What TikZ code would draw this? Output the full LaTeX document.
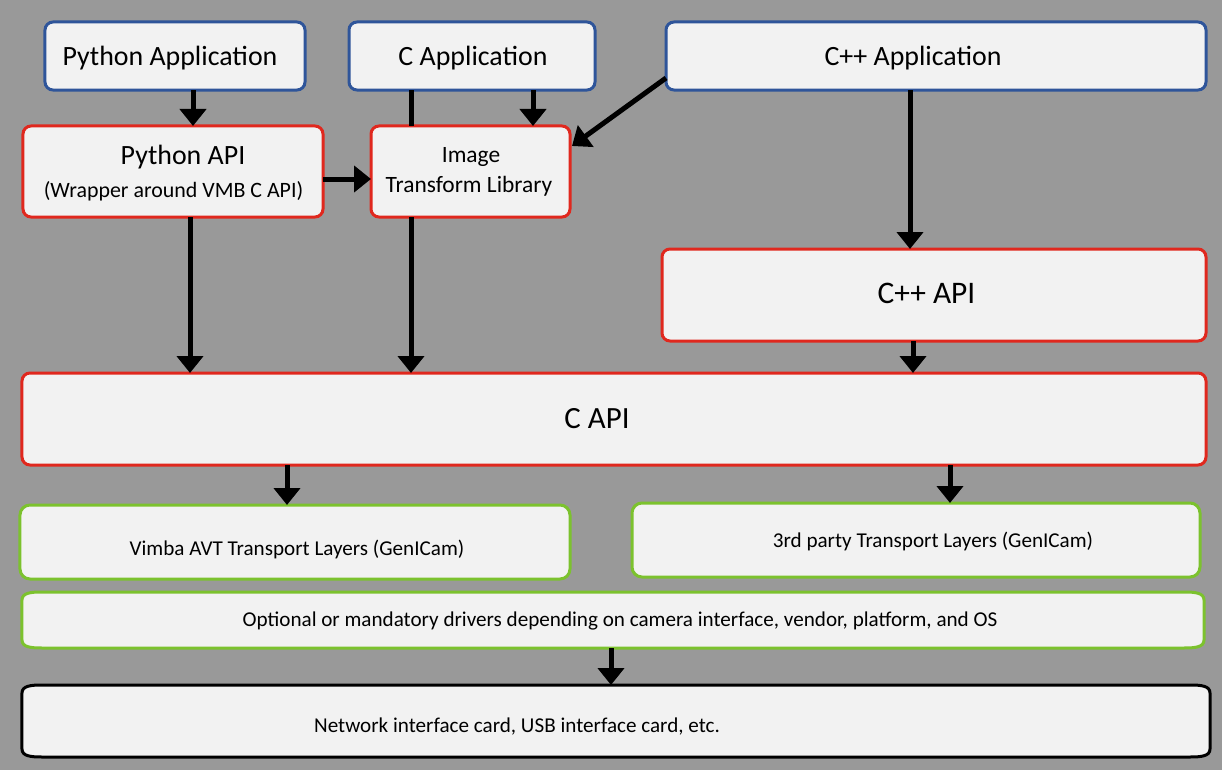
\documentclass[tikz,border=0pt]{standalone}
\usepackage{fontspec}
\setmainfont{Carlito}
\usetikzlibrary{arrows.meta,calc}
\definecolor{bg}{HTML}{999999}
\definecolor{boxfill}{HTML}{F2F2F2}
\definecolor{appblue}{HTML}{2F559A}
\definecolor{apired}{HTML}{E0281E}
\definecolor{tlgreen}{HTML}{7CC22E}
\newcommand\ellbox[4]{%
  \draw[line width=3bp,draw=#2,fill=boxfill]
    ([xshift=#3]#1.north west) -- ([xshift=-#3]#1.north east)
    .. controls ([xshift=-0.45*#3]#1.north east) and ([yshift=-0.1*#4]#1.north east) .. ([yshift=-#4]#1.north east)
    -- ([yshift=#4]#1.south east)
    .. controls ([yshift=0.1*#4]#1.south east) and ([xshift=-0.45*#3]#1.south east) .. ([xshift=-#3]#1.south east)
    -- ([xshift=#3]#1.south west)
    .. controls ([xshift=0.45*#3]#1.south west) and ([yshift=0.1*#4]#1.south west) .. ([yshift=#4]#1.south west)
    -- ([yshift=-#4]#1.north west)
    .. controls ([yshift=-0.1*#4]#1.north west) and ([xshift=0.45*#3]#1.north west) .. ([xshift=#3]#1.north west) -- cycle;}
\begin{document}
\begin{tikzpicture}[x=1bp,y=-1bp,
 box/.style={rounded corners=8bp, line width=3bp, fill=boxfill, inner sep=0, outer sep=0},
 app/.style={box, draw=appblue},
 api/.style={box, draw=apired},
 tl/.style={box, draw=tlgreen, rounded corners=10bp},
 plain/.style={inner sep=0, outer sep=0},
 txt/.style={inner sep=0, anchor=base},
 apptxt/.style={txt, font=\fontsize{28}{33}\selectfont},
 small/.style={txt, font=\fontsize{21.2}{25}\selectfont},
 arr/.style={line width=5bp, -{Triangle[width=26bp,length=17bp]}},
 seg/.style={line width=5bp},
]
\fill[white] (0,0) rectangle (1229,770);
\fill[bg] (0,0) rectangle (1222,770);
\useasboundingbox (0,0) rectangle (1229,770);

% applications
\node[app, minimum width=260bp, minimum height=68bp] (pyapp) at (175,56) {};
\node[apptxt] (pyapptxt) at (170,66) {Python Application};
\node[app, minimum width=246bp, minimum height=68bp] (capp) at (472,56) {};
\node[apptxt] (capptxt) at (473,66) {C Application};
\node[app, minimum width=540bp, minimum height=68bp] (cppapp) at (936,56) {};
\node[apptxt] (cppapptxt) at (913,66) {C++ Application};

% APIs
\node[api, minimum width=300bp, minimum height=91bp] (pyapi) at (173,171.5) {};
\node[apptxt] (pyapitxt) at (183,164) {Python API};
\node[txt, font=\fontsize{22}{26}\selectfont] (pyapisub) at (173.5,197) {(Wrapper around VMB C API)};
\node[api, minimum width=199bp, minimum height=91bp] (itl) at (470.5,171.5) {};
\node[txt, font=\fontsize{23.5}{28}\selectfont] (itltxta) at (471,162) {Image};
\node[txt, font=\fontsize{23.5}{28}\selectfont] (itltxtb) at (469,192) {Transform Library};
\node[api, minimum width=544bp, minimum height=92bp] (cppapi) at (934,295) {};
\node[txt, font=\fontsize{31.5}{36}\selectfont] (cppapitxt) at (926.5,303) {C++ API};
\node[api, minimum width=1184bp, minimum height=92bp] (capi) at (614,419) {};
\node[txt, font=\fontsize{31}{36}\selectfont] (capitxt) at (597,428) {C API};

% transport layers
\node[tl, minimum width=550bp, minimum height=74bp] (vimba) at (295,542) {};
\node[small] (vimbatxt) at (297,555) {Vimba AVT Transport Layers (GenICam)};
\node[tl, minimum width=568bp, minimum height=74bp] (third) at (916,540) {};
\node[small] (thirdtxt) at (933,547) {3rd party Transport Layers (GenICam)};

% drivers and hardware
\node[plain, minimum width=1182bp, minimum height=56bp] (opt) at (613,620) {};
\ellbox{opt}{tlgreen}{20bp}{8bp}
\node[small] (opttxt) at (620,626) {Optional or mandatory drivers depending on camera interface, vendor, platform, and OS};
\node[plain, minimum width=1188bp, minimum height=72bp] (net) at (616,721) {};
\ellbox{net}{black}{20bp}{8bp}
\node[small] (nettxt) at (517,732) {Network interface card, USB interface card, etc.};

% helper coordinates
\coordinate (x193) at (193,0);
\coordinate (x533) at (533,0);
\coordinate (x411) at (411,0);
\coordinate (x190) at (190,0);
\coordinate (x910) at (910,0);
\coordinate (x913) at (913,0);
\coordinate (x287) at (287,0);
\coordinate (x950) at (950,0);
\coordinate (x611) at (611,0);
\coordinate (y179) at (0,179);

% connectors
\draw[arr] (pyapp.south -| x193) -- (pyapi.north -| x193);
\draw[arr] (capp.south -| x533) -- (itl.north -| x533);
\draw[seg] (capp.south -| x411) -- (itl.north -| x411);
\draw[arr] (itl.south -| x411) -- (capi.north -| x411);
\draw[arr] ([yshift=12bp]cppapp.south west) -- ([xshift=2bp,yshift=-20bp]itl.north east);
\draw[arr] (pyapi.east |- y179) -- (itl.west |- y179);
\draw[arr] (pyapi.south -| x190) -- (capi.north -| x190);
\draw[arr] (cppapp.south -| x910) -- (cppapi.north -| x910);
\draw[arr] (cppapi.south -| x913) -- (capi.north -| x913);
\draw[arr] (capi.south -| x287) -- (vimba.north -| x287);
\draw[arr] (capi.south -| x950) -- (third.north -| x950);
\draw[arr] (opt.south -| x611) -- (net.north -| x611);
\end{tikzpicture}
\end{document}
